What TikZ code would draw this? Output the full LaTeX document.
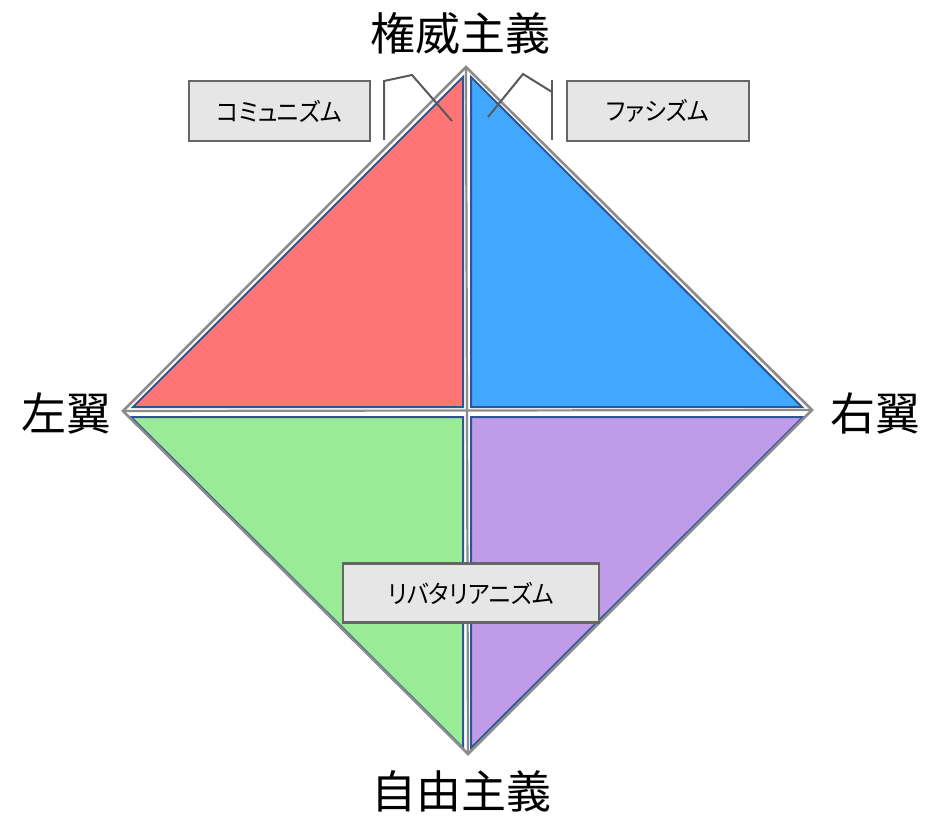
\documentclass[tikz,border=0pt]{standalone}
\usepackage{fontspec}
\setmainfont{Noto Sans CJK JP}
\newfontfamily\tagfont[RawFeature=+palt,FakeStretch=0.93]{Noto Sans CJK JP}
\definecolor{qred}{HTML}{FF7575}
\definecolor{qblue}{HTML}{40A9FF}
\definecolor{qgreen}{HTML}{99EB96}
\definecolor{qpurple}{HTML}{C09BEA}
\definecolor{qedge}{HTML}{2F5597}
\definecolor{qgrey}{HTML}{8C8C8C}
\definecolor{boxfill}{HTML}{E6E6E6}
\definecolor{boxline}{HTML}{666666}
\definecolor{callout}{HTML}{595959}
\tikzset{
  quad/.style={draw=qedge, line width=2pt, line join=miter},
  axisline/.style={draw=qgrey, line width=2.6pt},
  tagbox/.style={draw=boxline, line width=2.2pt, fill=boxfill, inner sep=0pt, font=\tagfont\fontsize{25}{30}\selectfont},
  pole/.style={font=\fontsize{45}{50}\selectfont, inner sep=0pt},
  calloutline/.style={draw=callout, line width=2pt, line join=miter}
}
\begin{document}
\begin{tikzpicture}[x=1pt,y=-1pt]
\useasboundingbox (0,0) rectangle (929,821);
% structure
\coordinate (T) at (466,67);
\coordinate (L) at (123,411);
\coordinate (B) at (468,754);
\coordinate (R) at (812,410);
\fill[white] (T) -- (L) -- (B) -- (R) -- cycle;
% quadrants
\draw[quad, fill=qred] (463,77) -- (133,407) -- (463,407) -- cycle;
\draw[quad, fill=qblue] (471,77) -- (471,407) -- (802,407) -- cycle;
\draw[quad, fill=qgreen] (131,417) -- (463,417) -- (463,748) -- cycle;
\draw[quad, fill=qpurple] (471,417) -- (803,417) -- (471,748) -- cycle;
% grey frame and axes
\draw[axisline, line join=miter] (T) -- (L) -- (B) -- (R) -- cycle;
\draw[axisline, line width=2.2pt] (L) -- (R);
\draw[axisline, line width=2.2pt] (T) -- (B);
% pole labels
\node[pole] (auth) at (460,33) {権威主義};
\node[pole] (lib) at (461,791) {自由主義};
\node[pole, anchor=east] (left) at (112,413) {左翼};
\node[pole, anchor=west] (right) at (830,413) {右翼};
% tag boxes
\node[tagbox, minimum width=181pt, minimum height=60pt] (comm) at (279.5,111) {コミュニズム};
\node[tagbox, minimum width=182pt, minimum height=60pt] (fasc) at (658,111) {ファシズム};
\node[tagbox, minimum width=256pt, minimum height=59pt] (libt) at (471,593) {リバタリアニズム};
% callouts
\coordinate (c1a) at (384,140);
\coordinate (c1b) at (384,81);
\coordinate (c1c) at (412,75);
\coordinate (c1d) at (452,121);
\draw[calloutline] (c1a) -- (c1b) -- (c1c) -- (c1d);
\coordinate (c2a) at (552,140);
\coordinate (c2b) at (552,80);
\coordinate (c2m) at (552,92);
\coordinate (c2c) at (523,74);
\coordinate (c2d) at (488,117);
\draw[calloutline] (c2a) -- (c2b);
\draw[calloutline] (c2m) -- (c2c) -- (c2d);
\end{tikzpicture}
\end{document}
